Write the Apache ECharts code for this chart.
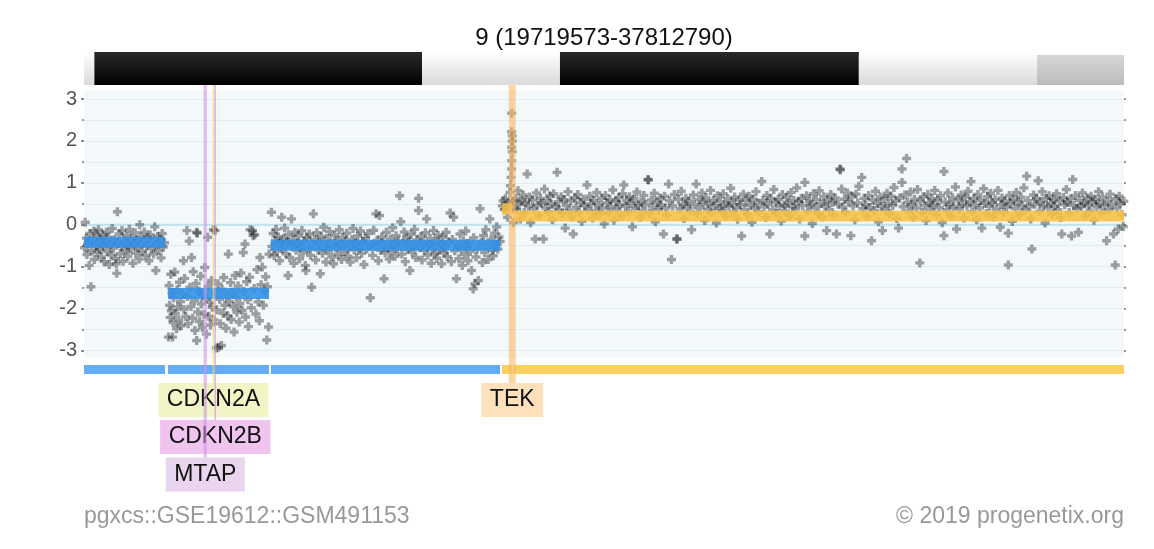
<!DOCTYPE html>
<html><head><meta charset="utf-8">
<script src="https://cdn.jsdelivr.net/npm/echarts@6/dist/echarts.min.js"></script>
<style>html,body{margin:0;padding:0;background:#fff}#c{width:1154px;height:549px}</style>
</head><body><div id="c"></div>
<script>
// ---------- data ----------
const chartTitle = '9 (19719573-37812790)';
const footerLeft = 'pgxcs::GSE19612::GSM491153';
const footerRight = '\u00A9 2019 progenetix.org';
const xMin = 19.719573, xMax = 37.812790;          // Mb
const yMin = -3, yMax = 3;

// cytobands chr9 (Mb)
const bandStart = [18.5, 19.9, 25.6, 28.0, 33.2, 36.3];
const bandEnd   = [19.9, 25.6, 28.0, 33.2, 36.3, 38.4];
const bandStain = ['gneg', 'gpos100', 'gneg', 'gpos100', 'gneg', 'gpos25'];

// CNV segments
const segStart = [19.7196, 21.181, 22.973, 26.992, 27.19];
const segEnd   = [21.129, 22.938, 26.957, 27.17, 37.8128];
const segValue = [-0.42, -1.64, -0.49, 0.38, 0.21];
const segType  = ['DEL', 'DEL', 'DEL', 'DUP', 'DUP'];

// genes
const geneName  = ['CDKN2A', 'CDKN2B', 'MTAP', 'TEK'];
const geneStart = [21.958, 22.000, 21.800, 27.109];
const geneEnd   = [21.985, 22.007, 21.858, 27.230];
const geneRow   = [0, 1, 2, 0];

// probe log2 values [Mb, value]
const seg1Points = [[19.73,-0.55],[19.74,0.06],[19.76,-0.32],[19.77,-0.71],[19.79,-0.44],[19.81,-0.97],[19.82,-0.21],[19.84,-1.48],[19.85,-0.62],[19.87,-0.38],[19.89,-0.15],[19.90,-0.83],[19.92,-0.49],[19.94,-0.27],[19.95,-0.66],[19.97,-0.12],[19.99,-0.58],[20.01,-0.35],[20.02,-0.77],[20.04,-0.23],[20.06,-0.51],[20.07,-0.88],[20.09,-0.41],[20.11,-0.18],[20.12,-0.64],[20.14,-0.30],[20.16,-0.95],[20.18,-0.47],[20.19,-0.72],[20.21,-0.09],[20.23,-0.56],[20.25,-0.36],[20.27,-0.81],[20.28,-0.93],[20.29,-1.16],[20.30,0.31],[20.31,-0.44],[20.33,-0.22],[20.35,-0.69],[20.37,-0.52],[20.38,-0.14],[20.40,-0.87],[20.42,-0.39],[20.44,-0.61],[20.46,-0.26],[20.48,-0.75],[20.49,-0.47],[20.51,-0.11],[20.53,-0.58],[20.55,-0.33],[20.57,-0.92],[20.59,-0.45],[20.61,-0.19],[20.62,-0.68],[20.64,-0.37],[20.66,-0.54],[20.68,-0.82],[20.69,0.00],[20.71,-0.29],[20.73,-0.63],[20.75,-0.42],[20.77,-0.17],[20.79,-0.73],[20.81,-0.50],[20.83,-0.31],[20.85,-0.86],[20.87,-0.24],[20.89,-0.57],[20.91,-0.40],[20.93,-0.70],[20.95,-0.05],[20.97,-1.09],[20.98,-0.48],[21.00,-0.28],[21.02,-0.62],[21.04,-0.36],[21.06,-0.79],[21.08,-0.21],[21.10,-0.53],[21.12,-0.43]];
const seg2Points = [[21.19,-2.68],[21.20,-1.45],[21.21,-1.92],[21.22,-2.21],[21.23,-1.18],[21.24,-2.05],[21.25,-1.63],[21.26,-2.68],[21.27,-2.33],[21.28,-1.74],[21.30,-1.13],[21.31,-2.12],[21.33,-2.48],[21.34,-1.55],[21.35,-1.96],[21.37,-2.27],[21.38,-1.37],[21.40,-1.83],[21.41,-2.41],[21.43,-1.66],[21.45,-0.86],[21.46,-2.02],[21.47,-1.28],[21.49,-2.19],[21.51,-0.14],[21.52,-1.71],[21.53,-2.36],[21.55,-0.39],[21.56,-1.49],[21.58,-1.95],[21.59,-0.78],[21.61,-2.23],[21.62,-1.12],[21.64,-1.81],[21.65,-2.52],[21.67,-1.40],[21.68,-0.18],[21.68,-2.76],[21.69,-0.20],[21.70,-2.08],[21.72,-1.58],[21.73,-2.31],[21.75,-1.23],[21.76,-1.89],[21.78,-2.45],[21.79,-1.67],[21.81,-2.14],[21.82,-1.02],[21.84,-1.76],[21.85,-2.61],[21.87,-0.30],[21.88,-1.47],[21.89,-2.18],[21.91,-1.85],[21.92,-2.39],[21.94,-1.33],[21.95,-1.97],[21.97,-0.12],[21.98,-2.27],[22.00,-0.14],[22.01,-1.62],[22.02,-2.94],[22.03,-2.03],[22.05,-1.41],[22.06,-2.92],[22.08,-1.78],[22.09,-2.36],[22.11,-2.88],[22.12,-1.54],[22.14,-2.11],[22.15,-1.26],[22.17,-1.92],[22.19,-2.47],[22.20,-1.69],[22.22,-2.17],[22.23,-0.70],[22.25,-1.83],[22.27,-1.38],[22.28,-2.26],[22.30,-1.61],[22.32,-1.95],[22.33,-2.56],[22.35,-1.21],[22.37,-1.73],[22.38,-2.09],[22.40,-1.46],[22.42,-2.32],[22.43,-1.88],[22.45,-1.15],[22.47,-2.04],[22.49,-0.66],[22.50,-1.59],[22.52,-0.46],[22.53,-2.20],[22.55,-1.36],[22.57,-1.79],[22.58,-2.43],[22.60,-1.25],[22.61,-0.12],[22.63,-1.98],[22.65,-0.14],[22.66,-0.26],[22.68,-1.52],[22.69,-0.24],[22.71,-2.13],[22.73,-1.07],[22.75,-1.84],[22.77,-2.29],[22.78,-0.78],[22.80,-1.43],[22.82,-1.01],[22.84,-1.92],[22.86,-1.60],[22.88,-1.24],[22.90,-2.75],[22.91,-1.48],[22.93,-2.44],[22.94,-0.70]];
const seg3Points = [[22.98,0.30],[22.99,-0.52],[23.01,-0.21],[23.03,-0.74],[23.05,-0.38],[23.06,-0.11],[23.08,-0.63],[23.10,-0.29],[23.12,-0.86],[23.14,-0.45],[23.16,0.18],[23.17,-0.57],[23.19,-0.33],[23.21,-0.08],[23.23,-0.69],[23.25,-0.41],[23.27,-1.21],[23.28,-0.24],[23.30,-0.78],[23.32,-0.50],[23.33,0.14],[23.35,-0.36],[23.37,-0.92],[23.39,-0.18],[23.41,-0.61],[23.43,-0.44],[23.45,-0.27],[23.47,-0.81],[23.49,-0.53],[23.51,-0.14],[23.53,-0.66],[23.55,-0.39],[23.57,-0.97],[23.58,-1.09],[23.60,-0.31],[23.62,-0.58],[23.64,-0.22],[23.66,-0.73],[23.68,-1.49],[23.70,-0.47],[23.71,0.26],[23.73,-0.35],[23.75,-0.84],[23.77,-0.19],[23.79,-0.60],[23.81,-0.42],[23.83,-1.17],[23.85,-0.28],[23.87,-0.68],[23.89,-0.06],[23.91,-0.51],[23.93,-0.89],[23.95,-0.33],[23.97,-0.62],[23.99,-0.16],[24.01,-0.46],[24.03,-0.77],[24.06,-0.93],[24.08,-0.25],[24.10,-0.55],[24.12,-0.38],[24.14,-0.71],[24.16,-0.12],[24.18,-0.49],[24.20,-0.83],[24.22,-0.30],[24.25,-0.64],[24.27,-0.41],[24.29,-0.20],[24.31,-0.75],[24.33,-0.53],[24.35,-0.89],[24.38,-0.35],[24.40,-0.09],[24.42,-0.60],[24.44,-0.44],[24.46,-0.79],[24.48,-0.27],[24.51,-0.56],[24.53,-0.15],[24.55,-0.68],[24.57,-0.40],[24.59,-0.95],[24.62,-0.32],[24.64,-0.58],[24.66,-0.21],[24.70,-1.74],[24.72,-0.47],[24.74,-0.73],[24.76,-0.13],[24.78,-0.52],[24.80,0.26],[24.82,-0.37],[24.84,-0.86],[24.86,0.22],[24.88,-0.61],[24.90,-0.29],[24.92,-0.43],[24.94,-1.29],[24.96,-0.67],[24.98,-0.18],[25.00,-0.54],[25.03,-0.82],[25.05,-0.34],[25.07,-0.62],[25.09,-0.07],[25.11,-0.48],[25.13,-0.75],[25.15,-0.26],[25.17,-0.57],[25.19,-0.39],[25.21,0.69],[25.23,0.07],[25.25,-0.70],[25.27,-0.45],[25.29,-0.17],[25.31,-0.88],[25.33,-0.31],[25.35,-0.59],[25.37,-0.42],[25.39,-1.09],[25.41,-0.23],[25.43,-0.65],[25.45,-0.50],[25.47,-0.11],[25.49,-0.78],[25.51,-0.36],[25.54,0.63],[25.54,0.34],[25.56,-0.55],[25.58,-0.28],[25.60,-0.84],[25.62,-0.43],[25.64,-0.61],[25.66,-0.19],[25.68,0.14],[25.70,-0.72],[25.72,-0.47],[25.74,-0.33],[25.76,-0.92],[25.78,-0.56],[25.80,-0.14],[25.82,-0.69],[25.84,-0.40],[25.86,-0.80],[25.88,-0.25],[25.90,-0.60],[25.92,-0.46],[25.94,-0.93],[25.96,-0.30],[25.98,-0.67],[26.00,-0.53],[26.02,-0.18],[26.04,-0.76],[26.06,-0.41],[26.09,0.28],[26.11,-0.88],[26.13,-0.35],[26.15,0.18],[26.17,-0.62],[26.20,-1.29],[26.22,-0.49],[26.24,-0.81],[26.26,-0.22],[26.28,-0.57],[26.30,-0.97],[26.32,-0.38],[26.34,-0.71],[26.36,-0.15],[26.38,-0.52],[26.40,-0.86],[26.42,-0.44],[26.44,-0.64],[26.46,-1.09],[26.49,-1.53],[26.50,-0.31],[26.52,-1.41],[26.54,-0.77],[26.56,-0.58],[26.58,-1.33],[26.61,0.38],[26.63,-0.42],[26.65,-0.90],[26.67,-0.26],[26.69,-0.66],[26.71,-0.12],[26.73,-0.50],[26.75,-0.83],[26.78,0.14],[26.80,-0.35],[26.82,-0.61],[26.84,-0.74],[26.86,-0.20],[26.88,-0.47],[26.90,-0.05],[26.92,-0.58],[26.94,-0.29],[26.96,-0.40]];
const tekPoints = [[27.00,0.45],[27.01,0.57],[27.03,0.36],[27.05,0.62],[27.07,0.41],[27.09,0.18],[27.11,0.52],[27.13,0.77],[27.14,0.93],[27.15,1.13],[27.16,2.66],[27.16,2.22],[27.17,2.12],[27.17,2.00],[27.16,1.85],[27.17,1.74],[27.16,1.53],[27.16,1.33],[27.18,0.57],[27.19,0.05],[27.20,0.38]];
const seg4Points = [[27.23,0.62],[27.25,0.35],[27.27,0.81],[27.29,0.48],[27.31,0.14],[27.33,0.57],[27.36,0.71],[27.38,0.29],[27.40,0.53],[27.43,1.21],[27.45,0.44],[27.47,0.66],[27.49,0.05],[27.52,0.59],[27.54,0.38],[27.57,-0.34],[27.59,0.76],[27.61,0.47],[27.63,0.22],[27.66,0.63],[27.68,0.51],[27.71,-0.34],[27.73,0.85],[27.75,0.40],[27.78,0.58],[27.80,0.31],[27.82,0.69],[27.85,0.49],[27.87,0.12],[27.89,0.74],[27.92,0.43],[27.95,1.25],[27.97,0.55],[27.99,0.36],[28.02,0.67],[28.04,0.27],[28.07,0.60],[28.09,-0.08],[28.11,0.46],[28.14,0.79],[28.16,0.34],[28.19,0.57],[28.21,0.19],[28.23,-0.22],[28.26,0.64],[28.28,0.42],[28.31,0.72],[28.33,0.30],[28.36,0.53],[28.38,0.08],[28.41,0.61],[28.43,0.45],[28.47,0.95],[28.49,0.37],[28.52,0.68],[28.54,0.50],[28.57,0.16],[28.59,0.58],[28.62,0.33],[28.64,0.77],[28.67,0.47],[28.69,0.25],[28.72,0.63],[28.74,0.40],[28.77,0.02],[28.79,0.70],[28.82,0.52],[28.84,0.29],[28.87,0.60],[28.89,0.43],[28.92,0.83],[28.94,0.11],[28.97,0.56],[28.99,0.37],[29.02,0.65],[29.04,0.48],[29.07,0.21],[29.09,0.74],[29.11,0.95],[29.14,0.44],[29.16,0.58],[29.19,0.31],[29.21,0.67],[29.24,0.51],[29.26,-0.05],[29.29,0.62],[29.31,0.39],[29.34,0.78],[29.36,0.46],[29.39,0.18],[29.41,0.55],[29.44,0.34],[29.46,0.70],[29.49,0.49],[29.53,1.08],[29.54,1.07],[29.56,0.27],[29.59,0.59],[29.61,0.42],[29.64,0.75],[29.66,0.07],[29.69,0.53],[29.71,0.36],[29.74,0.64],[29.76,0.47],[29.80,-0.22],[29.82,0.68],[29.84,0.40],[29.86,0.23],[29.89,0.97],[29.91,0.57],[29.94,-0.83],[29.96,0.45],[29.99,0.72],[30.03,-0.34],[30.04,-0.34],[30.06,0.61],[30.09,0.38],[30.11,0.80],[30.14,0.49],[30.16,0.15],[30.19,0.63],[30.21,0.43],[30.24,0.56],[30.27,0.32],[30.29,-0.12],[30.32,0.71],[30.34,0.48],[30.37,0.97],[30.39,0.26],[30.42,0.60],[30.44,0.41],[30.47,0.76],[30.49,0.54],[30.52,0.10],[30.54,0.65],[30.57,0.37],[30.59,0.50],[30.62,0.82],[30.64,0.28],[30.67,0.58],[30.69,0.45],[30.72,0.04],[30.74,0.69],[30.77,0.39],[30.79,0.55],[30.82,0.33],[30.84,0.74],[30.87,0.47],[30.89,0.20],[30.92,0.62],[30.94,0.44],[30.97,0.87],[30.99,0.52],[31.02,0.30],[31.04,0.66],[31.07,0.41],[31.09,0.13],[31.12,0.59],[31.14,0.48],[31.16,-0.27],[31.19,0.73],[31.21,0.36],[31.24,0.57],[31.26,0.24],[31.29,0.68],[31.31,0.46],[31.34,0.06],[31.36,0.61],[31.39,0.40],[31.41,0.79],[31.44,0.52],[31.46,0.31],[31.51,1.03],[31.53,0.58],[31.55,0.43],[31.58,0.17],[31.60,0.70],[31.62,0.49],[31.65,-0.22],[31.67,0.63],[31.70,0.35],[31.72,0.84],[31.75,0.54],[31.77,0.27],[31.80,0.60],[31.82,0.44],[31.85,0.09],[31.87,0.72],[31.90,0.47],[31.92,0.33],[31.95,0.65],[31.97,0.51],[32.00,0.21],[32.02,0.77],[32.05,0.42],[32.07,0.58],[32.10,0.38],[32.12,0.88],[32.15,0.55],[32.17,0.14],[32.20,0.63],[32.22,0.46],[32.26,1.01],[32.26,-0.27],[32.29,0.69],[32.31,0.32],[32.34,0.56],[32.36,0.47],[32.39,0.03],[32.41,0.74],[32.44,0.41],[32.46,0.60],[32.49,0.27],[32.51,0.81],[32.54,0.50],[32.56,0.19],[32.59,0.67],[32.61,0.44],[32.64,-0.14],[32.66,0.58],[32.69,0.36],[32.71,0.72],[32.74,0.53],[32.76,0.23],[32.79,0.64],[32.81,-0.22],[32.84,0.49],[32.87,1.33],[32.88,1.31],[32.90,0.85],[32.92,0.42],[32.95,0.61],[32.97,0.30],[33.00,0.76],[33.02,0.55],[33.06,-0.26],[33.08,0.68],[33.10,0.45],[33.13,0.12],[33.15,0.73],[33.18,0.52],[33.20,0.92],[33.25,1.13],[33.27,0.38],[33.29,0.63],[33.32,0.48],[33.34,0.20],[33.37,0.70],[33.39,0.41],[33.42,-0.38],[33.44,0.59],[33.47,0.34],[33.49,0.80],[33.52,0.51],[33.54,0.07],[33.57,0.66],[33.59,0.44],[33.61,-0.14],[33.64,0.62],[33.66,0.37],[33.69,0.75],[33.71,0.50],[33.74,0.26],[33.76,0.68],[33.79,0.46],[33.81,0.89],[33.84,0.57],[33.86,0.15],[33.89,-0.08],[33.91,0.64],[33.95,1.33],[33.95,1.01],[33.97,0.43],[34.00,0.71],[34.03,1.58],[34.05,0.54],[34.07,0.33],[34.10,0.78],[34.12,0.48],[34.15,0.18],[34.17,0.61],[34.20,0.40],[34.22,0.84],[34.26,-0.91],[34.27,0.56],[34.30,0.29],[34.32,0.67],[34.35,0.45],[34.37,0.10],[34.40,0.73],[34.42,0.52],[34.45,0.35],[34.47,0.62],[34.50,0.47],[34.52,0.82],[34.55,0.24],[34.57,0.58],[34.60,0.41],[34.62,0.69],[34.65,0.05],[34.68,1.27],[34.68,-0.26],[34.70,0.54],[34.73,0.36],[34.75,0.76],[34.78,0.49],[34.80,0.21],[34.83,0.64],[34.85,0.43],[34.88,0.90],[34.90,-0.10],[34.93,0.59],[34.95,0.38],[34.98,0.71],[35.00,0.50],[35.03,0.16],[35.05,0.66],[35.08,0.45],[35.10,0.80],[35.13,0.55],[35.15,1.03],[35.17,0.31],[35.20,0.63],[35.22,0.47],[35.25,0.12],[35.27,0.72],[35.30,0.40],[35.32,0.58],[35.34,-0.08],[35.37,0.86],[35.39,0.51],[35.42,0.27],[35.44,0.67],[35.47,0.44],[35.49,0.75],[35.52,0.53],[35.54,0.19],[35.57,0.60],[35.59,0.37],[35.62,0.82],[35.66,-0.06],[35.67,0.48],[35.69,0.64],[35.72,0.30],[35.74,0.56],[35.77,0.42],[35.80,-0.96],[35.80,-0.20],[35.82,0.70],[35.84,0.50],[35.87,0.08],[35.89,0.61],[35.92,0.39],[35.94,0.77],[35.97,0.54],[35.99,0.23],[36.02,0.66],[36.04,0.46],[36.07,0.88],[36.09,0.35],[36.12,1.16],[36.14,0.58],[36.17,0.43],[36.19,0.14],[36.21,-0.58],[36.24,0.71],[36.26,0.49],[36.29,0.62],[36.32,1.05],[36.34,0.32],[36.36,0.55],[36.39,0.79],[36.41,0.45],[36.44,0.04],[36.46,0.63],[36.49,0.41],[36.51,0.69],[36.54,0.52],[36.56,0.26],[36.59,0.60],[36.61,0.44],[36.64,0.74],[36.66,0.36],[36.69,0.57],[36.71,0.17],[36.73,-0.22],[36.76,0.65],[36.78,0.48],[36.81,0.84],[36.83,0.53],[36.86,0.29],[36.88,0.62],[36.90,-0.27],[36.92,1.08],[36.94,0.46],[36.97,0.70],[36.99,0.39],[37.02,-0.18],[37.04,0.58],[37.07,0.43],[37.09,0.76],[37.12,0.51],[37.14,0.21],[37.17,0.64],[37.19,0.47],[37.22,0.33],[37.24,0.68],[37.27,0.55],[37.29,0.11],[37.32,0.60],[37.34,0.42],[37.37,0.79],[37.39,0.50],[37.42,0.28],[37.44,0.66],[37.47,0.45],[37.51,-0.38],[37.52,0.57],[37.55,0.36],[37.57,0.73],[37.60,0.49],[37.63,-0.22],[37.66,-0.96],[37.67,0.62],[37.69,0.40],[37.71,-0.10],[37.73,0.68],[37.75,0.52],[37.78,0.24],[37.80,-0.04],[37.81,0.56]];

// ---------- styles ----------
const FONT = '"Liberation Sans", Arial, Helvetica, sans-serif';
const PLOT_LEFT = 84, PLOT_RIGHT = 1124, PLOT_TOP = 99, PLOT_BOTTOM = 350.5;
const BG_TOP_VAL = 3.19, BG_BOTTOM_VAL = -3.17;
const IDEO_Y = {gneg: [55, 85], gpos100: [52, 85], gpos25: [55, 85]};
const TRACK_Y0 = 365, TRACK_Y1 = 374;
const GENE_LINE_TOP = 85;
const ROW_TOP = [383, 420, 457.5], ROW_H = 34;
const SEG_THICK = 11;
const segColor = {DEL: 'rgba(52,145,234,0.9)', DUP: 'rgba(246,192,66,0.88)'};
const trackColor = {DEL: '#62adf6', DUP: '#fbd062'};
const geneLineColor = ['rgba(222,228,100,0.75)', 'rgba(228,130,222,0.65)', 'rgba(208,150,228,0.6)', 'rgba(250,185,100,0.6)'];
const geneBoxColor = ['#f1f5c6', '#f1c3ef', '#ead5ef', '#fde1bb'];
const PLUS = 'path://M-0.38,-1 L0.38,-1 L0.38,-0.38 L1,-0.38 L1,0.38 L0.38,0.38 L0.38,1 L-0.38,1 L-0.38,0.38 L-1,0.38 L-1,-0.38 L-0.38,-0.38 Z';

function grad(c0, c1) {
  return new echarts.graphic.LinearGradient(0, 0, 0, 1, [{offset: 0, color: c0}, {offset: 1, color: c1}]);
}
const stainFill = {
  gneg: () => grad('#fbfbfb', '#dadada'),
  gpos100: () => grad('#2a2a2a', '#000000'),
  gpos25: () => grad('#d6d6d6', '#bcbcbc')
};

const chart = echarts.init(document.getElementById('c'), null, {renderer: 'canvas'});
const allPoints = [].concat(seg1Points, seg2Points, seg3Points, tekPoints, seg4Points);
const clampX = v => Math.min(xMax, Math.max(xMin, v));

const option = {
  animation: false,
  grid: {left: PLOT_LEFT, right: 1154 - PLOT_RIGHT, top: PLOT_TOP, bottom: 549 - PLOT_BOTTOM, containLabel: false},
  xAxis: {type: 'value', min: xMin, max: xMax, show: false},
  yAxis: [
    {type: 'value', min: yMin, max: yMax, interval: 1, position: 'left',
     axisLine: {show: false},
     axisTick: {show: true, length: 3, lineStyle: {color: '#666', width: 1.5}},
     minorTick: {show: true, splitNumber: 2, length: 2, lineStyle: {color: '#777', width: 1.5}},
     axisLabel: {color: '#555', fontSize: 20, fontFamily: FONT, margin: 7},
     splitLine: {show: true, lineStyle: {color: '#e1ecf8', width: 1}},
     minorSplitLine: {show: true, lineStyle: {color: '#e1ecf8', width: 1}}},
    {type: 'value', min: yMin, max: yMax, interval: 1, position: 'right',
     axisLine: {show: false},
     axisTick: {show: true, length: 2, lineStyle: {color: '#777', width: 1.5}},
     minorTick: {show: true, splitNumber: 2, length: 2, lineStyle: {color: '#777', width: 1.5}},
     axisLabel: {show: false}, splitLine: {show: false}}
  ],
  graphic: [
    {type: 'text', x: 604, y: 38, z: 10, style: {text: chartTitle, textAlign: 'center', textVerticalAlign: 'middle', font: '24px ' + FONT, fill: '#111'}},
    {type: 'text', x: 84, y: 517, z: 10, style: {text: footerLeft, textAlign: 'left', textVerticalAlign: 'middle', font: '23px ' + FONT, fill: '#999'}},
    {type: 'text', x: 1124, y: 517, z: 10, style: {text: footerRight, textAlign: 'right', textVerticalAlign: 'middle', font: '23px ' + FONT, fill: '#999'}}
  ],
  series: [
    // plot background
    {type: 'custom', z: -10, silent: true, clip: false, data: [[xMin, xMax]],
     renderItem: (params, api) => {
       const p0 = api.coord([xMin, BG_TOP_VAL]), p1 = api.coord([xMax, BG_BOTTOM_VAL]);
       return {type: 'rect', shape: {x: p0[0], y: p0[1], width: p1[0] - p0[0], height: p1[1] - p0[1]}, style: {fill: '#f3f8fa'}};
     }},
    // zero line
    {type: 'custom', z: 1, silent: true, clip: false, data: [[xMin, 0]],
     renderItem: (params, api) => {
       const p0 = api.coord([xMin, 0]), p1 = api.coord([xMax, 0]);
       return {type: 'line', shape: {x1: p0[0], y1: p0[1], x2: p1[0], y2: p1[1]}, style: {stroke: '#bfe2ee', lineWidth: 2}};
     }},
    // ideogram
    {type: 'custom', z: 3, silent: true, clip: false,
     data: bandStart.map((s, i) => [s, bandEnd[i], i]),
     renderItem: (params, api) => {
       const i = api.value(2);
       const st = bandStain[i];
       const a = clampX(api.value(0)), b = clampX(api.value(1));
       if (b <= a) return null;
       const x0 = api.coord([a, 0])[0], x1 = api.coord([b, 0])[0];
       const y = IDEO_Y[st];
       return {type: 'rect', shape: {x: x0, y: y[0], width: x1 - x0, height: y[1] - y[0]}, style: {fill: stainFill[st]()}};
     }},
    // probes
    {type: 'scatter', z: 2, silent: true, data: allPoints, symbol: PLUS, symbolSize: 9,
     itemStyle: {color: 'rgba(0,0,0,0.45)'}},
    // segments
    {type: 'custom', z: 3, silent: true, clip: false,
     data: segStart.map((s, i) => [s, segEnd[i], segValue[i], i]),
     renderItem: (params, api) => {
       const i = api.value(3);
       const p0 = api.coord([api.value(0), api.value(2)]), p1 = api.coord([api.value(1), api.value(2)]);
       return {type: 'rect', shape: {x: p0[0], y: p0[1] - SEG_THICK / 2, width: p1[0] - p0[0], height: SEG_THICK}, style: {fill: segColor[segType[i]]}};
     }},
    // bottom track
    {type: 'custom', z: 3, silent: true, clip: false,
     data: segStart.map((s, i) => [s, segEnd[i], i]),
     renderItem: (params, api) => {
       const i = api.value(2);
       const x0 = api.coord([api.value(0), 0])[0], x1 = api.coord([api.value(1), 0])[0];
       return {type: 'rect', shape: {x: x0, y: TRACK_Y0, width: x1 - x0, height: TRACK_Y1 - TRACK_Y0}, style: {fill: trackColor[segType[i]]}};
     }},
    // gene label boxes
    {type: 'custom', z: 5, silent: true, clip: false,
     data: geneStart.map((s, i) => [s, geneEnd[i], i]),
     renderItem: (params, api) => {
       const i = api.value(2);
       const x0 = api.coord([api.value(0), 0])[0], x1 = api.coord([api.value(1), 0])[0];
       const cx = (x0 + x1) / 2;
       return {type: 'text', x: cx, y: ROW_TOP[geneRow[i]] + ROW_H / 2,
               style: {text: geneName[i], textAlign: 'center', textVerticalAlign: 'middle', font: '23px ' + FONT, fill: '#111',
                       backgroundColor: geneBoxColor[i], padding: [5.5, 8.5, 5.5, 8.5], lineHeight: 23}};
     }},
    // gene lines
    {type: 'custom', z: 6, silent: true, clip: false,
     data: geneStart.map((s, i) => [s, geneEnd[i], i]),
     renderItem: (params, api) => {
       const i = api.value(2);
       let x0 = api.coord([api.value(0), 0])[0], x1 = api.coord([api.value(1), 0])[0];
       if (x1 - x0 < 1.5) { const c = (x0 + x1) / 2; x0 = c - 0.75; x1 = c + 0.75; }
       return {type: 'rect', shape: {x: x0, y: GENE_LINE_TOP, width: x1 - x0, height: ROW_TOP[geneRow[i]] - GENE_LINE_TOP}, style: {fill: geneLineColor[i]}};
     }}
  ]
};
chart.setOption(option);
</script>
</body></html>
